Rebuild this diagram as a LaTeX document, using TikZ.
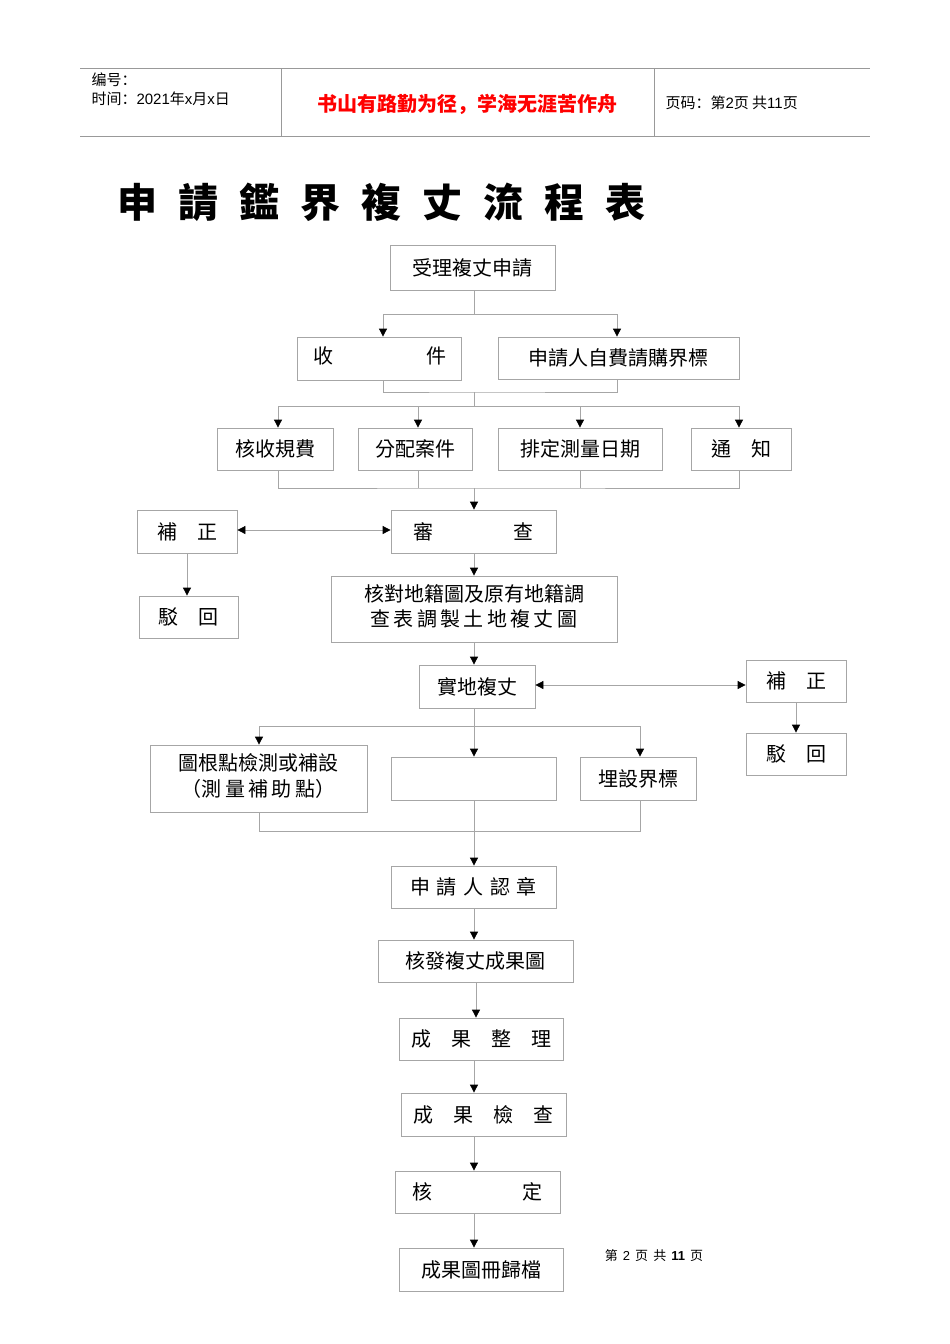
\documentclass[tikz,border=0pt]{standalone}
\usepackage{fontspec}
\setmainfont{Noto Sans CJK TC}
\newfontfamily\scfont{Noto Sans CJK SC}
\newfontfamily\lat{Liberation Sans}
\usetikzlibrary{arrows.meta}
\begin{document}
\begin{tikzpicture}[x=1pt,y=-1pt,
  bx/.style={draw=gray!70,line width=0.8pt,inner sep=0pt,font=\fontsize{20}{24}\selectfont},
  ln/.style={draw=gray!70,line width=0.8pt},
  ar/.style={ln,-{Triangle[color=black,width=8pt,length=8pt]}},
  dar/.style={ln,{Triangle[color=black,width=8pt,length=8pt]}-{Triangle[color=black,width=8pt,length=8pt]}}]
\useasboundingbox (0,0) rectangle (950,1344);
\def\mybox#1#2#3#4#5#6{\node[bx,minimum width=#4-#2,minimum height=#5-#3] (#1) at ({(#2+#4)/2},{(#3+#5)/2}) {#6};}
\def\g{\hspace{21pt}}
\foreach \v in {187,259,278,383,418,474,476,580,617,640,739,796} {\coordinate (x\v) at (\v,0);}
\foreach \v in {530,685} {\coordinate (y\v) at (0,\v);}
% header
\draw[gray!80,line width=1pt] (80,68) -- (870,68) (80,136) -- (870,136) (281,68) -- (281,136) (654,68) -- (654,136);
\node[anchor=west,font=\scfont\fontsize{15}{18}\selectfont] (h1) at (88,80) {编号：};
\node[anchor=west,font=\scfont\fontsize{15}{18}\selectfont] (h2) at (88,99) {时间：{\lat 2021}年{\lat x}月{\lat x}日};
\node[font=\scfont\bfseries\fontsize{20}{24}\selectfont,text=red] (h3) at (467,104) {书山有路勤为径，学海无涯苦作舟};
\node[anchor=west,font=\scfont\fontsize{15}{18}\selectfont] (h4) at (662,103) {页码：第{\lat 2}页 共{\lat 11}页};
% title
\node[anchor=west,font=\bfseries\fontsize{40}{44}\selectfont] (title) at (114,202) {申\g 請\g 鑑\g 界\g 複\g 丈\g 流\g 程\g 表};
% boxes
\mybox{a}{390}{245}{555}{290}{受理複丈申請}
\mybox{b1}{297}{337}{461}{380}{}
\node[font=\fontsize{20}{24}\selectfont] (b1l) at (323,356) {收};
\node[font=\fontsize{20}{24}\selectfont] (b1r) at (436,356) {件};
\mybox{b2}{498}{337}{739}{379}{申請人自費請購界標}
\mybox{c1}{217}{428}{333}{470}{核收規費}
\mybox{c2}{358}{428}{472}{470}{分配案件}
\mybox{c3}{498}{428}{662}{470}{排定測量日期}
\mybox{c4}{691}{428}{791}{470}{通\quad 知}
\mybox{d1}{137}{510}{237}{553}{補\quad 正}
\mybox{d2}{391}{510}{556}{553}{審\hspace{80pt}查}
\mybox{e1}{139}{596}{238}{638}{駁\quad 回}
\mybox{e2}{331}{576}{617}{642}{\begin{tabular}{@{}c@{}}核對地籍圖及原有地籍調\\[1pt]查\,表\,調\,製\,土\,地\,複\,丈\,圖\end{tabular}}
\mybox{f}{419}{665}{535}{708}{實地複丈}
\mybox{f2}{746}{660}{846}{702}{補\quad 正}
\mybox{f3}{746}{733}{846}{775}{駁\quad 回}
\mybox{g1}{150}{745}{367}{812}{\begin{tabular}{@{}c@{}}圖根點檢測或補設\\[1pt]（測\,量\,補\,助\,點）\end{tabular}}
\mybox{g2}{391}{757}{556}{800}{}
\mybox{g3}{580}{757}{696}{800}{埋設界標}
\mybox{h}{391}{866}{556}{908}{申\,\,請\,\,人\,\,認\,\,章}
\mybox{i}{378}{940}{573}{982}{核發複丈成果圖}
\mybox{j}{399}{1018}{563}{1060}{成\quad 果\quad 整\quad 理}
\mybox{k}{401}{1093}{566}{1136}{成\quad 果\quad 檢\quad 查}
\mybox{l}{395}{1171}{560}{1213}{核\hspace{90pt}定}
\mybox{m}{399}{1248}{563}{1291}{成果圖冊歸檔}
\node[font=\scfont\fontsize{13}{15}\selectfont] (foot) at (654,1256) {第\, {\lat 2}\, 页\, 共\, {\lat\bfseries 11}\, 页};
% connectors
\coordinate (j1) at (474,314);
\draw[ln] (a.south -| j1) -- (j1);
\draw[ar] (j1) -| (b1.north -| x383);
\draw[ar] (j1) -| (b2.north -| x617);
\coordinate (j2) at (474,392);
\draw[ln] (b1.south -| x383) |- (j2) -| (b2.south -| x617);
\coordinate (j3) at (474,406);
\draw[ln] (j2) -- (j3);
\draw[ar] (j3) -| (c1.north -| x278);
\draw[ar] (j3) -| (c2.north -| x418);
\draw[ar] (j3) -| (c3.north -| x580);
\draw[ar] (j3) -| (c4.north -| x739);
\coordinate (j4) at (474,488);
\draw[ln] (c1.south -| x278) |- (j4) -| (c4.south -| x739);
\draw[ln] (c2.south -| x418) -- (j4 -| x418);
\draw[ln] (c3.south -| x580) -- (j4 -| x580);
\draw[ar] (j4) -- (d2.north -| j4);
\draw[dar] (d1.east |- y530) -- (d2.west |- y530);
\draw[ar] (d1.south -| x187) -- (e1.north -| x187);
\draw[ar] (d2.south -| j4) -- (e2.north -| j4);
\draw[ar] (e2.south -| j4) -- (f.north -| j4);
\draw[dar] (f.east |- y685) -- (f2.west |- y685);
\draw[ar] (f2.south -| x796) -- (f3.north -| x796);
\coordinate (j5) at (474,726);
\draw[ln] (f.south -| j5) -- (j5);
\draw[ar] (j5) -| (g1.north -| x259);
\draw[ar] (j5) -- (g2.north -| j5);
\draw[ar] (j5) -| (g3.north -| x640);
\coordinate (j6) at (474,831);
\draw[ln] (g1.south -| x259) |- (j6) -| (g3.south -| x640);
\draw[ar] (g2.south -| j6) -- (h.north -| j6);
\draw[ar] (h.south -| j6) -- (i.north -| j6);
\draw[ar] (i.south -| x476) -- (j.north -| x476);
\draw[ar] (j.south -| x474) -- (k.north -| x474);
\draw[ar] (k.south -| x474) -- (l.north -| x474);
\draw[ar] (l.south -| x474) -- (m.north -| x474);
\end{tikzpicture}
\end{document}
